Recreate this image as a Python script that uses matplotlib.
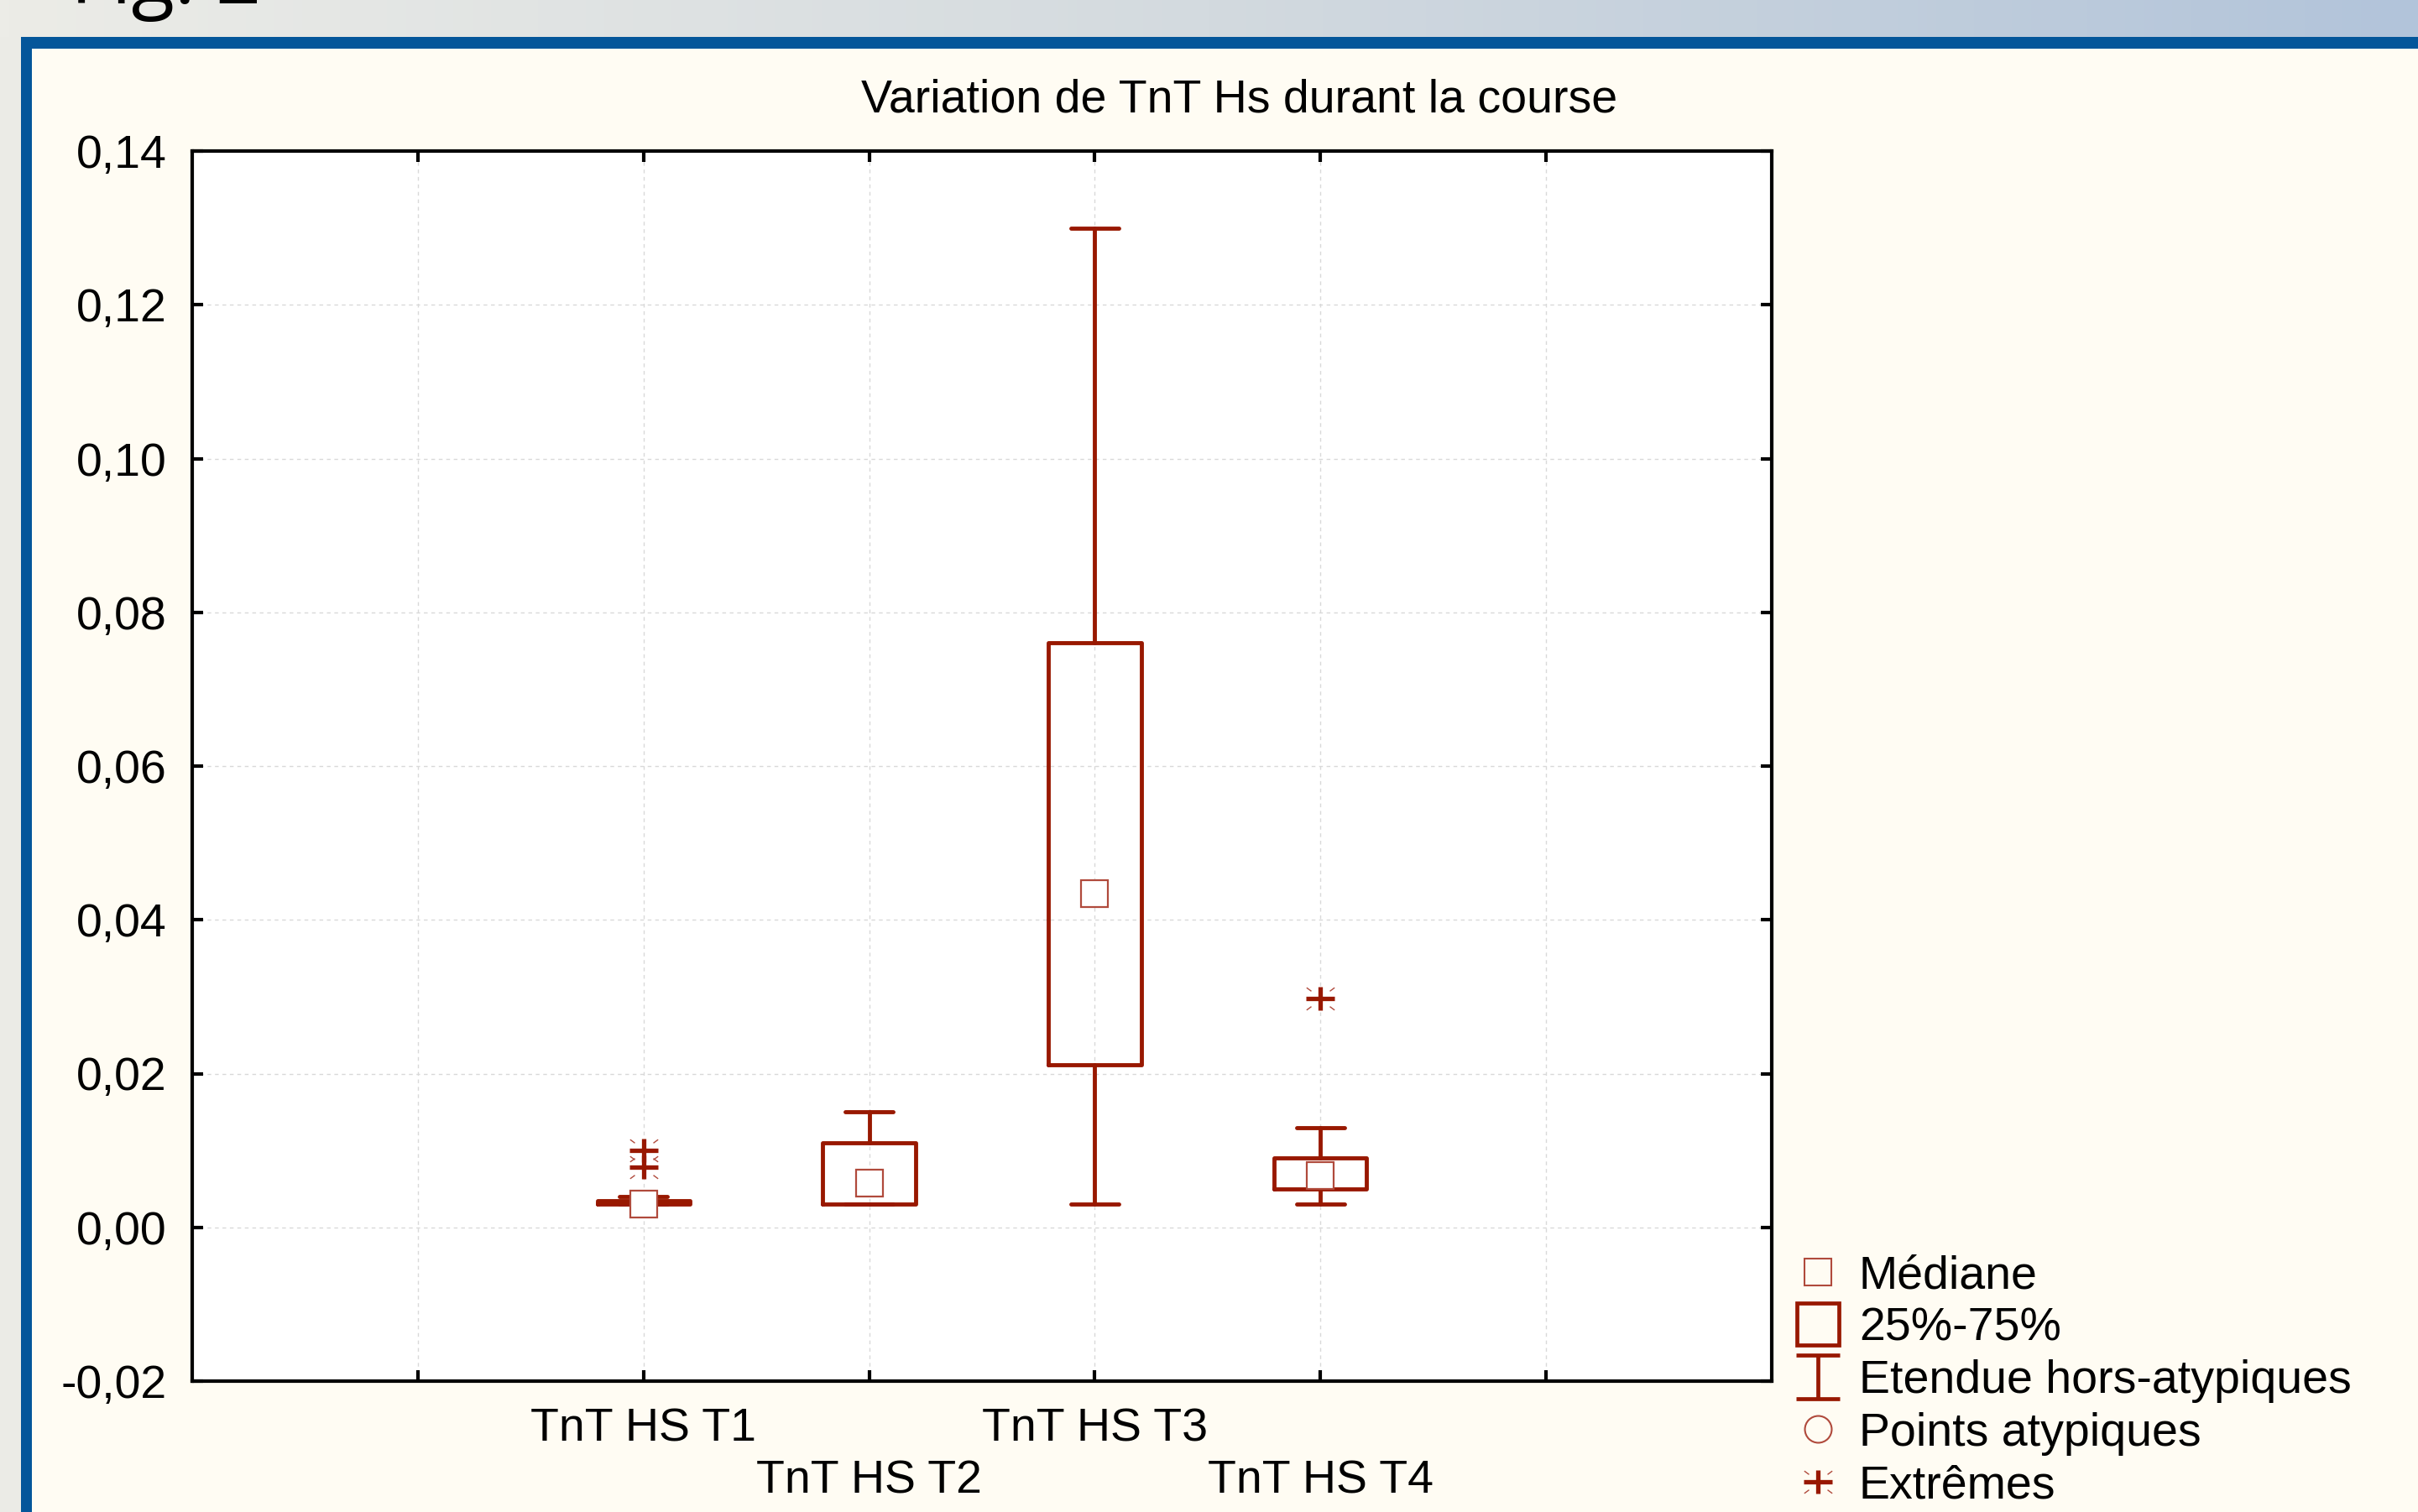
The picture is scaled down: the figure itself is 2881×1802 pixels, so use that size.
#!/usr/bin/env python3
import matplotlib
matplotlib.use("Agg")
import matplotlib.pyplot as plt
import numpy as np
from matplotlib.path import Path
from matplotlib.lines import Line2D
from matplotlib.patches import Rectangle
from matplotlib.colors import LinearSegmentedColormap
from matplotlib.ticker import FuncFormatter

# data
categories = ["TnT HS T1", "TnT HS T2", "TnT HS T3", "TnT HS T4"]
medians = [0.0030, 0.0058, 0.0434, 0.0067]
q1 = [0.0030, 0.0030, 0.0211, 0.0050]
q3 = [0.0035, 0.0110, 0.0760, 0.0090]
whisker_low = [0.0030, 0.0030, 0.0030, 0.0030]
whisker_high = [0.0040, 0.0150, 0.1300, 0.0130]
extremes = [[0.0078, 0.0100], [], [], [0.0298]]
positions = [2, 3, 4, 5]
y_ticks = [-0.02, 0.0, 0.02, 0.04, 0.06, 0.08, 0.10, 0.12, 0.14]

RED = "#981800"
RED_LIGHT = "#b04a3c"
W, H = 2881, 1802

plt.rcParams["font.family"] = ["Liberation Sans", "DejaVu Sans"]
FS = 40

fig = plt.figure(figsize=(W / 100, H / 100), dpi=100, facecolor="#FFFCF3")

# slide background: gradient band, grey strip, blue frame
bg = fig.add_axes([0, 0, 1, 1], zorder=-10)
cmap = LinearSegmentedColormap.from_list("band", ["#ECECE7", "#D3DADF", "#B2C4DA"])
bg.imshow(np.linspace(0, 1, 256)[None, :], cmap=cmap, aspect="auto",
          extent=(0, W, 44, 0), zorder=0)
bg.add_patch(Rectangle((0, 44), 25, H - 44, color="#EBEBE6", lw=0))
bg.add_patch(Rectangle((25, 44), W - 25, 14, color="#04569A", lw=0))
bg.add_patch(Rectangle((25, 44), 13, H - 44, color="#04569A", lw=0))
bg.set_xlim(0, W)
bg.set_ylim(H, 0)
bg.axis("off")

fig.text(84 / W, 1 - 4 / H, "Fig. 2", fontsize=68, family=["Open Sans", "DejaVu Sans"],
         va="baseline", ha="left")

# plot area
x0, x1, y0, y1 = 229, 2111, 180, 1646
ax = fig.add_axes([x0 / W, 1 - y1 / H, (x1 - x0) / W, (y1 - y0) / H])
ax.set_facecolor("white")

stats = []
for i in range(len(categories)):
    stats.append(dict(med=medians[i], q1=q1[i], q3=q3[i],
                      whislo=whisker_low[i], whishi=whisker_high[i], fliers=[]))

line = dict(color=RED, lw=3.5, solid_capstyle="round", solid_joinstyle="round")
ax.bxp(stats, positions=positions, widths=0.41, capwidths=0.21,
       showfliers=False, boxprops=line, whiskerprops=line, capprops=line,
       medianprops=dict(linestyle="none"), manage_ticks=False, zorder=3)

ax.plot(positions, medians, ls="none", marker="s", ms=23, mfc="white",
        mec=RED_LIGHT, mew=1.6, zorder=4)

plus_path = Path([(-1, 0), (1, 0), (0, -0.82), (0, 0.82)],
                 [Path.MOVETO, Path.LINETO, Path.MOVETO, Path.LINETO])
tick_verts = []
tick_codes = []
for sx in (-1, 1):
    for sy in (-1, 1):
        tick_verts += [(sx * 0.66, sy * 0.55), (sx * 1.0, sy * 0.8)]
        tick_codes += [Path.MOVETO, Path.LINETO]
tick_path = Path(tick_verts, tick_codes)

for pos, vals in zip(positions, extremes):
    if not vals:
        continue
    xs = [pos] * len(vals)
    ax.plot(xs, vals, ls="none", marker=tick_path, ms=24, mec=RED_LIGHT,
            mew=1.0, zorder=5)
    ax.plot(xs, vals, ls="none", marker=plus_path, ms=24, mec=RED,
            mew=3.8, zorder=5)

ax.set_xlim(0, 7)
ax.set_ylim(-0.02, 0.14)
ax.set_yticks(y_ticks)
ax.yaxis.set_major_formatter(FuncFormatter(lambda v, p: f"{v:.2f}".replace(".", ",")))
ax.set_xticks([1, 2, 3, 4, 5, 6])
ax.set_xticklabels(["", categories[0], "\n" + categories[1],
                    categories[2], "\n" + categories[3], ""])
for lbl in ax.get_xticklabels():
    lbl.set_linespacing(1.24)
ax.tick_params(axis="both", direction="in", length=9.5, width=3, labelsize=FS,
               top=True, right=True, colors="black")
ax.tick_params(axis="y", pad=22)
ax.tick_params(axis="x", pad=23)
for s in ax.spines.values():
    s.set_linewidth(3)
    s.set_color("black")
ax.grid(True, color="#d9d9d9", lw=1.0, linestyle=(0, (3.2, 3.2)))
ax.set_axisbelow(True)

fig.text(1477 / W, 1 - 133 / H, "Variation de TnT Hs durant la course",
         fontsize=FS, ha="center", va="baseline")

# legend
ibeam = Path([(-1, 1), (1, 1), (0, 1), (0, -1), (-1, -1), (1, -1)],
             [Path.MOVETO, Path.LINETO, Path.MOVETO, Path.LINETO, Path.MOVETO, Path.LINETO])
handles = [
    Line2D([], [], ls="none", marker="s", ms=23, mfc="none", mec=RED_LIGHT, mew=1.5),
    Line2D([], [], ls="none", marker="s", ms=36, mfc="none", mec=RED, mew=3.4),
    Line2D([], [], ls="none", marker=ibeam, ms=37, mec=RED, mew=3.4),
    Line2D([], [], ls="none", marker="o", ms=23, mfc="none", mec=RED_LIGHT, mew=1.5),
    (Line2D([], [], ls="none", marker=tick_path, ms=24, mec=RED_LIGHT, mew=1.0),
     Line2D([], [], ls="none", marker=plus_path, ms=24, mec=RED, mew=3.8)),
]
labels = ["Médiane", "25%-75%", "Etendue hors-atypiques", "Points atypiques", "Extrêmes"]
fig.legend(handles, labels, loc="upper left", bbox_to_anchor=(2141 / W, 1 - 1495 / H),
           frameon=False, fontsize=FS, handlelength=0.9, handletextpad=0.43,
           borderpad=0, borderaxespad=0, labelspacing=0.19)

fig.savefig("out.png", dpi=100, facecolor=fig.get_facecolor())
